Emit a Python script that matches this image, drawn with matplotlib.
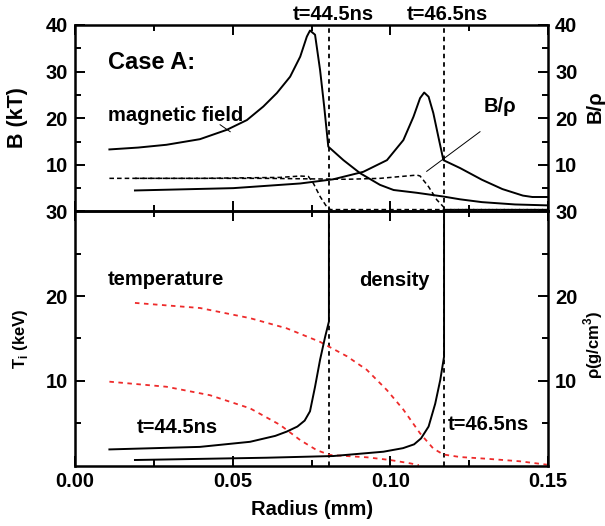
import matplotlib
matplotlib.use("Agg")
import matplotlib.pyplot as plt
from matplotlib.ticker import MultipleLocator, FixedLocator

plt.rcParams['font.family'] = ['Liberation Sans', 'DejaVu Sans']
plt.rcParams['font.weight'] = 'bold'
plt.rcParams['axes.labelweight'] = 'bold'
plt.rcParams['mathtext.fontset'] = 'custom'
plt.rcParams['mathtext.rm'] = 'Liberation Sans:bold'
plt.rcParams['mathtext.bf'] = 'Liberation Sans:bold'

# shock positions (mm)
r_shock44 = 0.0805
r_shock46 = 0.1170

# magnetic field B (kT), t=44.5ns
b44_r = [0.0109, 0.02, 0.029, 0.0396, 0.0481, 0.0545, 0.0597, 0.064, 0.0682, 0.0714, 0.0735,
         0.0745, 0.0761, 0.0777, 0.079, 0.0803, 0.0851, 0.0904, 0.0967, 0.101, 0.1084,
         0.1168, 0.1221, 0.129, 0.1395, 0.15]
b44_v = [13.3, 13.7, 14.3, 15.5, 17.5, 19.6, 22.5, 25.4, 28.9, 33.2, 37.5,
         38.8, 37.9, 30.3, 22.5, 13.9, 11.0, 8.2, 5.7, 4.6, 4.0,
         3.2, 2.6, 2.0, 1.5, 1.3]

# magnetic field B (kT), t=46.5ns
b46_r = [0.019, 0.0502, 0.0714, 0.0819, 0.0914, 0.0989, 0.1041, 0.1073, 0.1094, 0.1107,
         0.1121, 0.1136, 0.1152, 0.1168, 0.1221, 0.129, 0.1355, 0.142, 0.145, 0.15]
b46_v = [4.5, 5.0, 6.0, 6.9, 8.5, 11.0, 15.3, 20.3, 24.3, 25.5,
         24.6, 21.1, 16.0, 11.0, 9.3, 6.8, 4.8, 3.4, 3.1, 3.1]

# B/rho, t=44.5ns and t=46.5ns
br44_r = [0.0109, 0.04, 0.065, 0.0714, 0.074, 0.0756, 0.0777, 0.0798, 0.081, 0.15]
br44_v = [7.1, 7.1, 7.3, 7.6, 7.5, 6.0, 3.2, 1.0, 0.4, 0.4]
br46_r = [0.019, 0.06, 0.0862, 0.0967, 0.1084, 0.1094, 0.1121, 0.1147, 0.1168, 0.118, 0.15]
br46_v = [7.1, 7.1, 6.9, 7.1, 7.8, 7.6, 5.3, 2.5, 1.0, 0.4, 0.4]

# ion temperature (keV)
t_hi_r = [0.019, 0.0396, 0.0555, 0.0671, 0.0777, 0.0862, 0.0925, 0.0989, 0.1041, 0.1094,
          0.1136, 0.1168, 0.1221, 0.1305, 0.141, 0.1496]
t_hi_v = [19.2, 18.6, 17.4, 16.2, 14.6, 12.9, 11.3, 8.9, 6.6, 3.8,
          2.0, 1.3, 1.0, 0.8, 0.5, 0.1]
t_lo_r = [0.0109, 0.029, 0.0428, 0.0555, 0.065, 0.0714, 0.0767, 0.0809, 0.0925, 0.0999, 0.1062, 0.109]
t_lo_v = [9.9, 9.3, 8.3, 6.75, 4.8, 3.0, 1.8, 1.24, 0.97, 0.65, 0.26, 0.05]

# density (g/cm^3)
d44_r = [0.0109, 0.0396, 0.0555, 0.0635, 0.0671, 0.0705, 0.0728, 0.0745, 0.0761, 0.0777,
         0.0793, 0.0805, 0.0805]
d44_v = [1.9, 2.2, 2.8, 3.5, 4.0, 4.6, 5.3, 6.4, 9.3, 12.5,
         15.2, 17.0, 35]
d46_r = [0.019, 0.0608, 0.0819, 0.0978, 0.104, 0.1075, 0.1097, 0.1121, 0.1142, 0.1158,
         0.1170, 0.1170]
d46_v = [0.65, 0.92, 1.12, 1.63, 2.05, 2.5, 3.2, 4.6, 7.3, 10.1,
         12.85, 35]

red = '#ee2a2a'

fig = plt.figure(figsize=(6.05, 5.26), dpi=100)
ax2 = fig.add_axes([0.124, 0.115, 0.782, 0.483])
ax1 = fig.add_axes([0.124, 0.598, 0.782, 0.3546])

for ax in (ax1, ax2):
    ax.set_xlim(0, 0.15)
    ax.xaxis.set_major_locator(MultipleLocator(0.05))
    ax.xaxis.set_minor_locator(MultipleLocator(0.025))
    ax.tick_params(which='both', direction='in', top=True, right=True,
                   labelright=True, width=1.4, labelsize=14.5, pad=5)
    ax.tick_params(which='major', length=7)
    ax.tick_params(which='minor', length=4)
    for s in ax.spines.values():
        s.set_linewidth(1.8)
    for rs in (r_shock44, r_shock46):
        ax.axvline(rs, color='black', lw=1.3, ls=(0, (2.5, 2.2)))
    ax.patch.set_alpha(0)

# top panel
ax1.set_ylim(0, 40)
ax1.yaxis.set_major_locator(FixedLocator([10, 20, 30, 40]))
ax1.yaxis.set_minor_locator(FixedLocator([5, 15, 25, 35]))
ax1.tick_params(labelbottom=False)
ax1.plot(b44_r, b44_v, color='black', lw=1.4)
ax1.plot(b46_r, b46_v, color='black', lw=1.4)
ax1.plot(br44_r, br44_v, color='black', lw=1.1, ls=(0, (3, 2)))
ax1.plot(br46_r, br46_v, color='black', lw=1.1, ls=(0, (3, 2)))
ax1.text(0.0105, 32, 'Case A:', fontsize=17, va='center')
ax1.text(0.0105, 20.5, 'magnetic field', fontsize=14.5, va='center')
ax1.plot([0.046, 0.0492], [18.6, 17.1], color='black', lw=0.7)
ax1.text(0.1295, 22.6, 'B/ρ', fontsize=14.5, va='center')
ax1.plot([0.1284, 0.1115], [17.1, 8.6], color='black', lw=0.7)
ax1.text(0.0818, 42.3, 't=44.5ns', fontsize=14.5, ha='center', va='center', clip_on=False)
ax1.text(0.1180, 42.3, 't=46.5ns', fontsize=14.5, ha='center', va='center', clip_on=False)

# bottom panel
ax2.set_ylim(0, 30)
ax2.yaxis.set_major_locator(FixedLocator([10, 20, 30]))
ax2.yaxis.set_minor_locator(FixedLocator([5, 15, 25]))
ax2.plot(t_hi_r, t_hi_v, color=red, lw=1.3, ls=(0, (2.5, 2.5)))
ax2.plot(t_lo_r, t_lo_v, color=red, lw=1.3, ls=(0, (2.5, 2.5)))
ax2.plot(d44_r, d44_v, color='black', lw=1.4)
ax2.plot(d46_r, d46_v, color='black', lw=1.4)
ax2.text(0.0105, 22.0, 'temperature', fontsize=14.5, va='center')
ax2.text(0.090, 21.8, 'density', fontsize=14.5, va='center')
ax2.text(0.0196, 4.5, 't=44.5ns', fontsize=14.5, va='center')
ax2.text(0.1183, 4.8, 't=46.5ns', fontsize=14.5, va='center')
ax2.set_xlabel('Radius (mm)', fontsize=14.5, labelpad=6)

fig.text(17 / 605, 1 - 118 / 526, 'B (kT)', fontsize=15.5, rotation=90, ha='center', va='center')
fig.text(20 / 605, 1 - 339 / 526, r'T$_\mathbf{i}$ (keV)', fontsize=12, rotation=90, ha='center', va='center')
fig.text(595 / 605, 1 - 107 / 526, 'B/ρ', fontsize=14.5, rotation=90, ha='center', va='center')
fig.text(593 / 605, 1 - 345 / 526, 'ρ(g/cm$^\\mathbf{3}$)', fontsize=12, rotation=90, ha='center', va='center')

fig.savefig('out.png', dpi=100)
